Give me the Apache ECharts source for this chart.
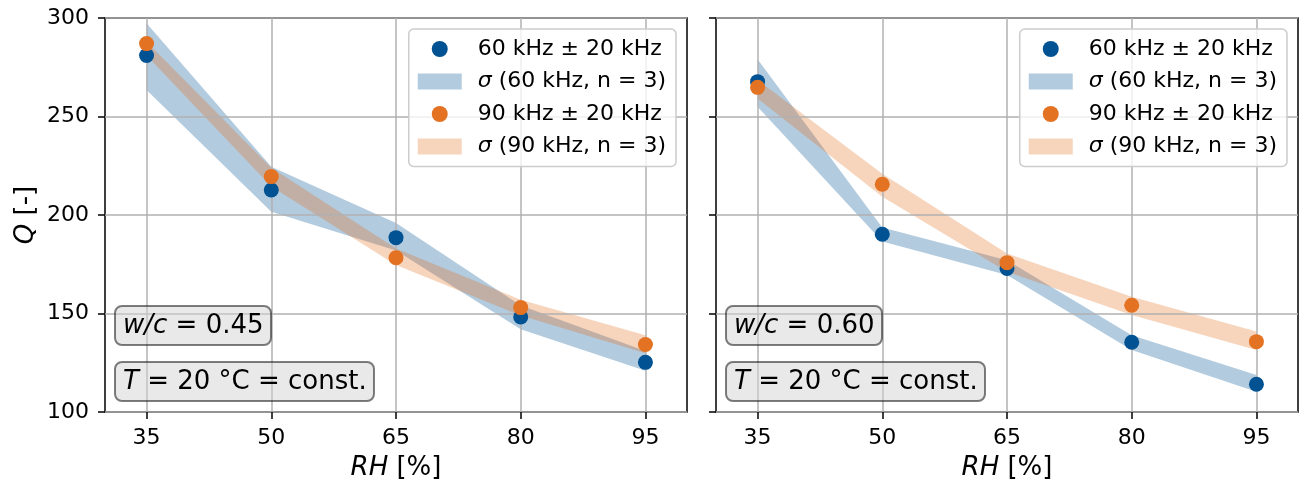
<!DOCTYPE html>
<html>
<head>
<meta charset="utf-8">
<script src="https://cdn.jsdelivr.net/npm/echarts@6/dist/echarts.min.js"></script>
<style>
  html, body { margin: 0; padding: 0; background: #fff; }
  #main { width: 1308px; height: 483px; }
</style>
</head>
<body>
<div id="main"></div>
<script>
// RH [%]
var rh = [35, 50, 65, 80, 95];

// w/c = 0.45 (left)
var q60L = [281, 212.7, 188.5, 148.2, 125.2];
var q60LoL = [263.5, 201.7, 182, 142, 121];
var q60HiL = [297.3, 224.5, 196, 154, 131];
var q90L = [287, 219.5, 178.3, 153, 134.3];
var q90LoL = [281, 214.5, 174.6, 149, 129.8];
var q90HiL = [288, 224, 183, 157, 139];

// w/c = 0.60 (right)
var q60R = [267.7, 190.2, 172.9, 135.4, 114.1];
var q60LoR = [255, 186.5, 169.5, 131.5, 110.3];
var q60HiR = [279, 193.6, 177, 139, 118.8];
var q90R = [264.8, 215.6, 175.8, 154.2, 135.7];
var q90LoR = [259.2, 209.3, 171.2, 149.2, 131.5];
var q90HiR = [268.5, 221, 180.5, 158.5, 140.8];

var BLUE = '#005293';
var ORANGE = '#E37222';
var BLUE_BAND = 'rgba(0,82,147,0.3)';
var ORANGE_BAND = 'rgba(227,114,34,0.3)';
var FONT = 'DejaVu Sans';

var names = ['60 kHz \u00b1 20 kHz', '\u03c3 (60 kHz, n = 3)', '90 kHz \u00b1 20 kHz', '\u03c3 (90 kHz, n = 3)'];

function pairs(xs, ys) {
  return xs.map(function (x, i) { return [x, ys[i]]; });
}

// sigma band: one polygon through upper points and back along lower points
function band(idx, name, lo, hi, color) {
  return {
    type: 'custom', name: name, xAxisIndex: idx, yAxisIndex: idx, z: 1, silent: true,
    data: rh.map(function (x, i) { return [x, lo[i], hi[i]]; }),
    encode: { x: 0, y: [1, 2] },
    itemStyle: { color: color },
    renderItem: function (params, api) {
      if (params.dataIndex !== 0) return;
      var pts = [];
      for (var i = 0; i < rh.length; i++) pts.push(api.coord([rh[i], hi[i]]));
      for (var j = rh.length - 1; j >= 0; j--) pts.push(api.coord([rh[j], lo[j]]));
      return { type: 'polygon', shape: { points: pts }, style: { fill: color } };
    }
  };
}

function dots(idx, name, ys, color) {
  return {
    type: 'scatter', name: name, xAxisIndex: idx, yAxisIndex: idx, z: 4,
    data: pairs(rh, ys), symbolSize: 15,
    itemStyle: { color: color, opacity: 1 }
  };
}

var italic = { fontFamily: FONT, fontSize: 26, fontStyle: 'italic', color: '#000' };

function xAxis(idx) {
  return {
    type: 'value', gridIndex: idx, min: 30, max: 100, z: 2,
    name: '{i|RH} [%]', nameLocation: 'middle', nameGap: 43,
    nameTextStyle: { fontFamily: FONT, fontSize: 26, color: '#000', rich: { i: italic } },
    axisLine: { show: false },
    axisTick: { show: true, inside: false, length: 7, customValues: rh, lineStyle: { color: '#000', width: 1.5 } },
    axisLabel: { customValues: rh, margin: 15, fontFamily: FONT, fontSize: 22, color: '#000' },
    splitLine: { show: true, lineStyle: { color: '#b0b0b0', width: 1.5 } }
  };
}

function yAxis(idx, labels) {
  return {
    type: 'value', gridIndex: idx, min: 100, max: 300, interval: 50, z: 2,
    name: labels ? '{i|Q} [-]' : '', nameLocation: 'middle', nameGap: 66,
    nameTextStyle: { fontFamily: FONT, fontSize: 26, color: '#000', rich: { i: italic } },
    axisLine: { show: false },
    axisTick: { show: true, inside: false, length: 7, lineStyle: { color: '#000', width: 1.5 } },
    axisLabel: { show: labels, margin: 16, fontFamily: FONT, fontSize: 22, color: '#000' },
    splitLine: { show: true, lineStyle: { color: '#b0b0b0', width: 1.5 } }
  };
}

function legend(right) {
  return {
    orient: 'vertical', right: right, top: 29,
    backgroundColor: 'rgba(255,255,255,0.8)', borderColor: '#cccccc', borderWidth: 1.5, borderRadius: 5,
    padding: [9, 10, 9, 9],
    itemWidth: 44, itemHeight: 16, itemGap: 10.5,
    textStyle: { fontFamily: FONT, fontSize: 22, color: '#000', padding: [0, 0, 0, 11],
      rich: { i: { fontFamily: FONT, fontSize: 22, fontStyle: 'italic', color: '#000' } } },
    formatter: function (n) { return n.replace('\u03c3', '{i|\u03c3}'); },
    selectedMode: false,
    data: [
      { name: names[0], icon: 'circle', itemStyle: { color: BLUE } },
      { name: names[1], icon: 'rect', itemStyle: { color: BLUE_BAND } },
      { name: names[2], icon: 'circle', itemStyle: { color: ORANGE } },
      { name: names[3], icon: 'rect', itemStyle: { color: ORANGE_BAND } }
    ]
  };
}

function box(text, left, top) {
  return {
    text: text, left: left, top: top,
    backgroundColor: 'rgba(211,211,211,0.5)', borderColor: 'rgba(0,0,0,0.5)', borderWidth: 2, borderRadius: 7,
    padding: [7, 8, 6, 8],
    textStyle: { fontFamily: FONT, fontSize: 26, fontWeight: 'normal', color: '#000',
      rich: { i: italic, n: { fontFamily: FONT, fontSize: 26, color: '#000' } } }
  };
}

var chart = echarts.init(document.getElementById('main'));
chart.setOption({
  animation: false,
  backgroundColor: '#fff',
  title: [
    box('{i|w/c}{n| = 0.45}', 115, 306),
    box('{i|T}{n| = 20 \u00b0C = const.}', 115, 362),
    box('{i|w/c}{n| = 0.60}', 726, 306),
    box('{i|T}{n| = 20 \u00b0C = const.}', 726, 362)
  ],
  legend: [legend(632), legend(21)],
  grid: [
    { left: 105, top: 18, width: 582, height: 394, outerBoundsMode: 'none', containLabel: false,
      show: true, borderColor: '#000', borderWidth: 1.5, backgroundColor: 'transparent' },
    { left: 716, top: 18, width: 582, height: 394, outerBoundsMode: 'none', containLabel: false,
      show: true, borderColor: '#000', borderWidth: 1.5, backgroundColor: 'transparent' }
  ],
  xAxis: [xAxis(0), xAxis(1)],
  yAxis: [yAxis(0, true), yAxis(1, false)],
  series: [
    band(0, names[1], q60LoL, q60HiL, BLUE_BAND),
    band(0, names[3], q90LoL, q90HiL, ORANGE_BAND),
    band(1, names[1], q60LoR, q60HiR, BLUE_BAND),
    band(1, names[3], q90LoR, q90HiR, ORANGE_BAND),
    dots(0, names[0], q60L, BLUE), dots(0, names[2], q90L, ORANGE),
    dots(1, names[0], q60R, BLUE), dots(1, names[2], q90R, ORANGE)
  ]
});
</script>
</body>
</html>
